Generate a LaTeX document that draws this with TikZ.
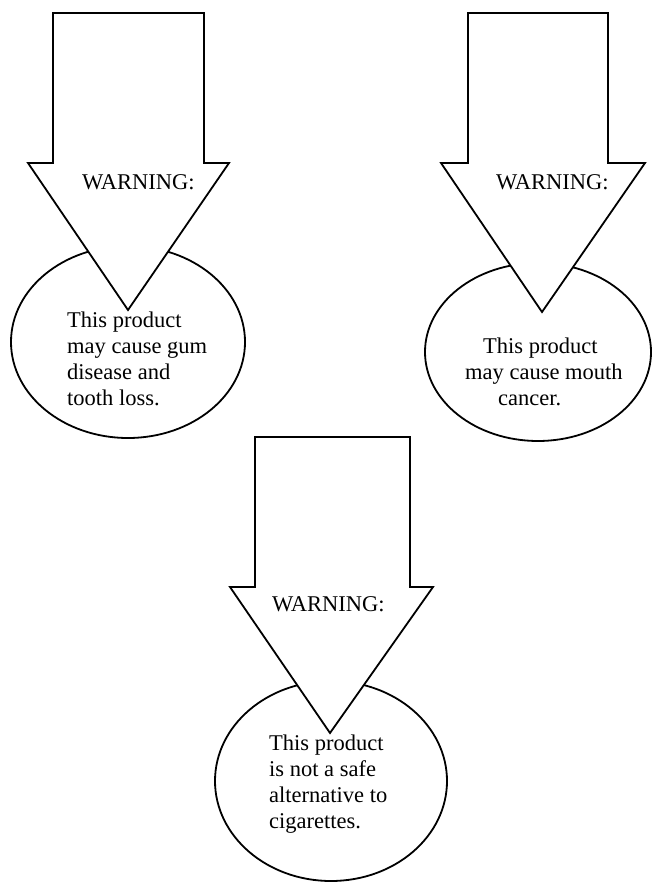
\documentclass[tikz,border=0pt]{standalone}
\usepackage{fontspec}
\setmainfont{Liberation Serif}
\begin{document}
\begin{tikzpicture}[x=1pt,y=-1pt,
  outline/.style={draw=black,line width=1.8pt,line join=miter},
  bubble/.style={outline,fill=white},
  banner/.style={outline,fill=white},
  caption/.style={font=\fontsize{22.5}{26}\selectfont,anchor=base west,inner sep=0pt},
]
\useasboundingbox (0,0) rectangle (651,882);

% ---- left panel ----
\draw[bubble] (128,342) ellipse [x radius=117pt,y radius=96pt];
\draw[banner] (53,13) -- (204,13) -- (204,163) -- (229,163) -- (128,310)
  -- (28,163) -- (53,163) -- cycle;
\node[caption] (warnA) at (82,190) {WARNING:};
\node[caption] (a1) at (67,327) {This product};
\node[caption] (a2) at (67,353) {may cause gum};
\node[caption] (a3) at (67,379) {disease and};
\node[caption] (a4) at (67,405) {tooth loss.};

% ---- right panel ----
\draw[bubble] (538,352) ellipse [x radius=113pt,y radius=89pt];
\draw[banner] (468,13) -- (608,13) -- (608,163) -- (645,163) -- (542,312)
  -- (441,163) -- (468,163) -- cycle;
\node[caption] (warnB) at (496,190) {WARNING:};
\node[caption] (b1) at (483,353) {This product};
\node[caption] (b2) at (465,379) {may cause mouth};
\node[caption] (b3) at (498,405) {cancer.};

% ---- bottom panel ----
\draw[bubble] (331,781) ellipse [x radius=116pt,y radius=100pt];
\draw[banner] (255,437) -- (410,437) -- (410,587) -- (433,587) -- (330,733)
  -- (230,587) -- (255,587) -- cycle;
\node[caption] (warnC) at (272,611) {WARNING:};
\node[caption] (c1) at (269,750) {This product};
\node[caption] (c2) at (269,776) {is not a safe};
\node[caption] (c3) at (269,802) {alternative to};
\node[caption] (c4) at (269,828) {cigarettes.};
\end{tikzpicture}
\end{document}
